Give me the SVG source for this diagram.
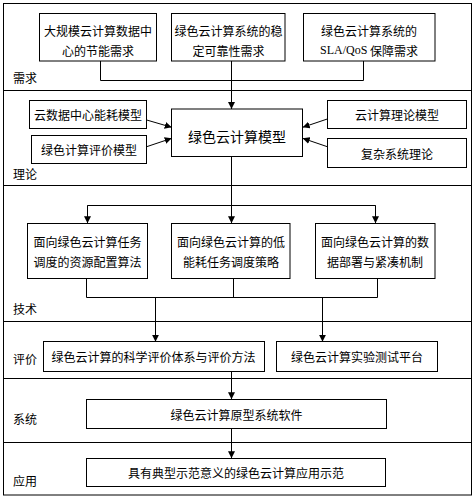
<svg xmlns="http://www.w3.org/2000/svg" width="474" height="500" viewBox="0 0 474 500">
<defs>
<marker id="ah" viewBox="0 0 10 10" refX="10" refY="5" markerWidth="7" markerHeight="7" markerUnits="userSpaceOnUse" orient="auto">
<path d="M0,0 L10,5 L0,10 Z" fill="#000"/>
</marker>
<style>
.box{fill:#fff;stroke:#000;stroke-width:1}
.t{font-family:"Noto Sans CJK SC","Liberation Sans",sans-serif;font-size:12px;fill:#000;text-anchor:middle;dominant-baseline:central}
.lab{font-family:"Noto Sans CJK SC","Liberation Sans",sans-serif;font-size:12px;fill:#000;dominant-baseline:central}
.big{font-size:14px}
.w{font-family:"Liberation Serif","Noto Sans CJK SC",serif}
.c{fill:none;stroke:#000;stroke-width:1}
.ca{fill:none;stroke:#000;stroke-width:1;marker-end:url(#ah)}
</style>
</defs>
<rect x="0" y="0" width="474" height="500" fill="#fff"/>
<g id="frame">
<rect x="3.5" y="3.5" width="468" height="491.5" fill="none" stroke="#000"/>
<line x1="3.5" y1="90.5" x2="471.5" y2="90.5" stroke="#000"/>
<line x1="3.5" y1="185.5" x2="471.5" y2="185.5" stroke="#000"/>
<line x1="3.5" y1="321.5" x2="471.5" y2="321.5" stroke="#000"/>
<line x1="3.5" y1="378.5" x2="471.5" y2="378.5" stroke="#000"/>
<line x1="3.5" y1="442.5" x2="471.5" y2="442.5" stroke="#000"/>
<text class="lab" x="13" y="77">需求</text>
<text class="lab" x="13" y="173">理论</text>
<text class="lab" x="13" y="308">技术</text>
<text class="lab" x="13" y="358">评价</text>
<text class="lab" x="13" y="418">系统</text>
<text class="lab" x="13" y="480">应用</text>
</g>
<g id="connectors">
<path class="c" d="M100.5,61 V80.5 H363.5 V61"/>
<path class="ca" d="M231.5,61 V109"/>
<path class="ca" d="M146.7,120 L171.7,127.3"/>
<path class="ca" d="M146.7,146.7 L171.7,138.3"/>
<path class="ca" d="M327.3,119 L302.7,127.3"/>
<path class="ca" d="M327.3,146.7 L302.7,138.3"/>
<path class="c" d="M231.5,156.7 V205.5"/>
<path class="c" d="M87.5,223 V205.5 H375.5 V223"/>
<path class="ca" d="M87.5,205.5 V223.3"/>
<path class="ca" d="M231.5,205.5 V223.3"/>
<path class="ca" d="M375.5,205.5 V223.3"/>
<path class="c" d="M86.5,278.3 V297.5 H377.5 V278.3"/>
<path class="c" d="M233.5,278.3 V297.5"/>
<path class="ca" d="M155.5,297.5 V341.7"/>
<path class="ca" d="M322.5,297.5 V341.7"/>
<path class="ca" d="M231.5,371.7 V399.3"/>
<path class="ca" d="M231.5,428.3 V458.3"/>
</g>
<g id="req1"><rect class="box" x="39.5" y="13.5" width="117" height="47.5"/><text class="t" x="98" y="30">大规模云计算数据中</text><text class="t" x="98" y="50">心的节能需求</text></g>
<g id="req2"><rect class="box" x="171.5" y="13.5" width="113.5" height="47.5"/><text class="t" x="228.5" y="30">绿色云计算系统的稳</text><text class="t" x="228.5" y="50">定可靠性需求</text></g>
<g id="req3"><rect class="box" x="303.5" y="13.5" width="131.5" height="47.5"/><text class="t" x="369" y="30">绿色云计算系统的</text><text class="t" x="369" y="50"><tspan class="w">SLA/QoS</tspan> 保障需求</text></g>
<g id="model"><rect class="box" x="171.5" y="109" width="131" height="47.5"/><text class="t big" x="237" y="136">绿色云计算模型</text></g>
<g id="th1"><rect class="box" x="29.5" y="100.5" width="117" height="28"/><text class="t" x="88" y="114.5">云数据中心能耗模型</text></g>
<g id="th2"><rect class="box" x="31.5" y="135.5" width="115" height="28"/><text class="t" x="89" y="149.5">绿色计算评价模型</text></g>
<g id="th3"><rect class="box" x="327.5" y="100.5" width="139" height="28"/><text class="t" x="397" y="114.5">云计算理论模型</text></g>
<g id="th4"><rect class="box" x="327.5" y="138.5" width="139" height="29"/><text class="t" x="397" y="153">复杂系统理论</text></g>
<g id="tech1"><rect class="box" x="27.5" y="223.5" width="120" height="55"/><text class="t" x="87.5" y="241.5">面向绿色云计算任务</text><text class="t" x="87.5" y="261.5">调度的资源配置算法</text></g>
<g id="tech2"><rect class="box" x="171.5" y="223.5" width="118.5" height="55"/><text class="t" x="231" y="241.5">面向绿色云计算的低</text><text class="t" x="231" y="261.5">能耗任务调度策略</text></g>
<g id="tech3"><rect class="box" x="315.5" y="223.5" width="119.5" height="55"/><text class="t" x="375" y="241.5">面向绿色云计算的数</text><text class="t" x="375" y="261.5">据部署与紧凑机制</text></g>
<g id="eval1"><rect class="box" x="43.5" y="341.5" width="221" height="30"/><text class="t" x="153.5" y="356">绿色云计算的科学评价体系与评价方法</text></g>
<g id="eval2"><rect class="box" x="276.5" y="341.5" width="161" height="30"/><text class="t" x="357" y="356.5">绿色云计算实验测试平台</text></g>
<g id="sys"><rect class="box" x="86.5" y="399.5" width="300" height="29"/><text class="t" x="236.5" y="414">绿色云计算原型系统软件</text></g>
<g id="app"><rect class="box" x="86.5" y="458.5" width="299" height="28"/><text class="t" x="236" y="472.5">具有典型示范意义的绿色云计算应用示范</text></g>
</svg>
